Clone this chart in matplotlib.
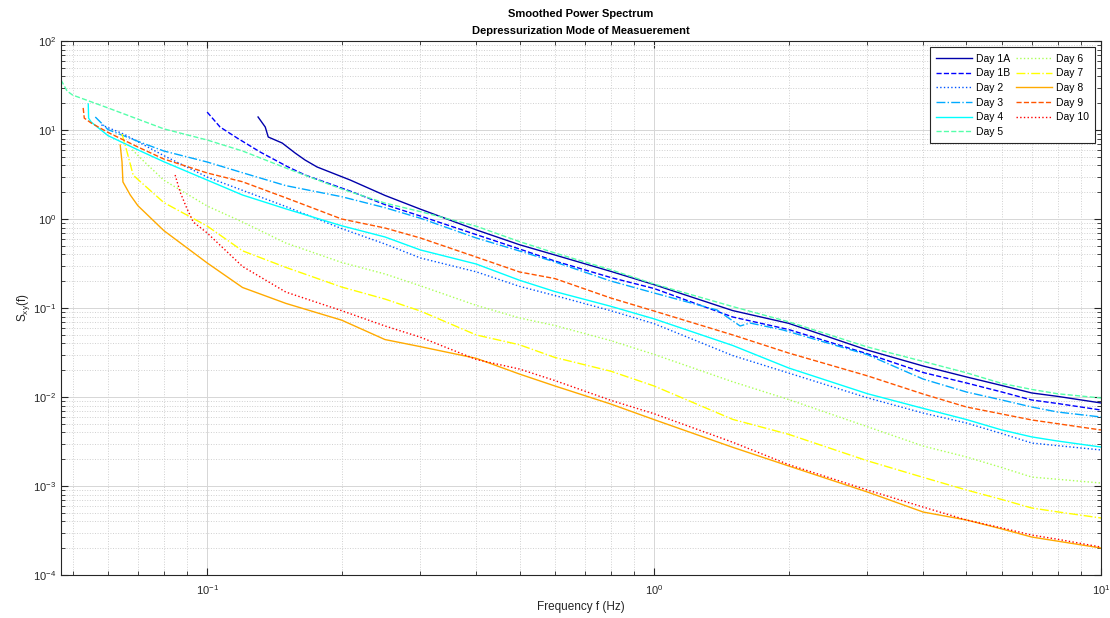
import matplotlib
matplotlib.use("Agg")
import matplotlib.pyplot as plt
from matplotlib.ticker import NullFormatter

# frequency (Hz) / smoothed power spectrum
f_day1a = [0.130, 0.1349, 0.137, 0.1472, 0.1573, 0.1656, 0.1762, 0.209, 0.25, 0.3, 0.4, 0.5,
           0.6, 0.8, 1.0, 1.5, 2, 3, 4, 5, 6, 7, 8, 10]
s_day1a = [14.0, 10.8, 8.34, 7.14, 5.52, 4.60, 3.84, 2.74, 1.84, 1.29, 0.755, 0.514,
           0.394, 0.258, 0.183, 0.0935, 0.0673, 0.0337, 0.0223, 0.0168, 0.01346, 0.0111, 0.01016, 0.00857]

f_day1b = [0.100, 0.1069, 0.1167, 0.1314, 0.1518, 0.1657, 0.2089, 0.25, 0.3, 0.4, 0.5, 0.6,
           0.8, 1.0, 1.5, 2, 3, 4, 5, 6, 7, 8, 10]
s_day1b = [15.9, 10.8, 8.13, 5.66, 3.84, 3.12, 2.06, 1.45, 1.08, 0.668, 0.460, 0.337,
           0.220, 0.1656, 0.0792, 0.0573, 0.0306, 0.01884, 0.01437, 0.01138, 0.00925, 0.00845, 0.00714]

f_day2 = [0.058, 0.065, 0.08, 0.1, 0.12, 0.15, 0.2, 0.25, 0.3, 0.4, 0.5, 0.6,
          0.8, 1.0, 1.5, 2, 3, 4, 5, 6, 7, 8, 10]
s_day2 = [11.4, 9.02, 5.15, 2.96, 2.10, 1.38, 0.78, 0.524, 0.365, 0.255, 0.175, 0.138,
          0.0933, 0.0667, 0.0292, 0.0186, 0.0098, 0.0066, 0.0051, 0.00388, 0.00304, 0.00284, 0.00254]

f_day3 = [0.0562, 0.06, 0.07, 0.08, 0.1, 0.12, 0.15, 0.2, 0.25, 0.3, 0.4, 0.5, 0.6, 0.8,
          1.0, 1.383, 1.558, 1.64, 1.944, 3, 4, 5, 6, 7, 8, 10]
s_day3 = [14.0, 10.1, 7.46, 5.81, 4.37, 3.31, 2.37, 1.78, 1.34, 1.02, 0.612, 0.437, 0.329, 0.201,
          0.1475, 0.095, 0.0628, 0.0678, 0.0566, 0.0299, 0.0159, 0.01138, 0.00925, 0.00772, 0.00678, 0.00596]

f_day4 = [0.0542, 0.0543, 0.055, 0.06, 0.07, 0.08, 0.1, 0.12, 0.15, 0.2, 0.25, 0.3, 0.4, 0.5,
          0.6, 0.8, 1.0, 1.5, 2, 3, 4, 5, 6, 7, 8, 10]
s_day4 = [19.6, 13.6, 12.3, 8.65, 5.98, 4.40, 2.74, 1.86, 1.30, 0.839, 0.628, 0.449, 0.312, 0.205,
          0.153, 0.1045, 0.0755, 0.0379, 0.0212, 0.0109, 0.00745, 0.00558, 0.00426, 0.00356, 0.0032, 0.00274]

f_day5 = [0.0471, 0.0486, 0.05, 0.06, 0.08, 0.1, 0.12, 0.15, 0.2, 0.25, 0.3, 0.4, 0.5,
          0.6, 0.8, 1.0, 1.5, 2, 3, 4, 5, 6, 7, 8, 10]
s_day5 = [36.5, 27.4, 24.7, 17.7, 10.3, 7.72, 5.81, 3.74, 2.17, 1.51, 1.21, 0.830, 0.557,
          0.415, 0.269, 0.186, 0.1037, 0.0700, 0.0365, 0.0251, 0.0187, 0.0142, 0.01217, 0.01087, 0.00975]

f_day6 = [0.068, 0.072, 0.08, 0.1, 0.12, 0.15, 0.2, 0.25, 0.3, 0.4, 0.5, 0.6, 0.8,
          1.0, 1.5, 2, 3, 4, 5, 6, 7, 8, 10]
s_day6 = [6.0, 4.5, 2.73, 1.40, 0.925, 0.537, 0.325, 0.241, 0.1776, 0.107, 0.0773, 0.0635, 0.0430,
          0.0301, 0.01482, 0.00937, 0.00464, 0.00281, 0.00212, 0.00161, 0.00126, 0.00119, 0.00108]

f_day7 = [0.0645, 0.0662, 0.0683, 0.07, 0.08, 0.1, 0.12, 0.15, 0.2, 0.25, 0.3, 0.4, 0.5,
          0.6, 0.8, 1.0, 1.5, 2, 3, 4, 5, 6, 7, 8, 10]
s_day7 = [9.02, 5.66, 3.12, 2.78, 1.53, 0.834, 0.439, 0.286, 0.172, 0.126, 0.0925, 0.0498, 0.0386,
          0.0278, 0.0195, 0.0133, 0.0056, 0.00381, 0.00192, 0.00125, 0.000902, 0.000705, 0.000566,
          0.000512, 0.000437]

f_day8 = [0.0639, 0.0645, 0.0648, 0.0673, 0.07, 0.08, 0.1, 0.12, 0.15, 0.2, 0.25, 0.3, 0.4,
          0.5, 0.6, 0.8, 1.0, 1.5, 2, 3, 4, 5, 6, 7, 8, 10]
s_day8 = [6.78, 4.37, 2.61, 1.86, 1.41, 0.741, 0.321, 0.170, 0.1127, 0.0730, 0.0442, 0.0368, 0.0272,
          0.0181, 0.0133, 0.00834, 0.00557, 0.00272, 0.00168, 0.000857, 0.00051, 0.000415, 0.000329,
          0.000267, 0.00024, 0.000201]

f_day9 = [0.0528, 0.0531, 0.055, 0.06, 0.07, 0.08, 0.1, 0.12, 0.15, 0.2, 0.25, 0.3, 0.4,
          0.5, 0.6, 0.8, 1.0, 1.5, 2, 3, 4, 5, 6, 7, 8, 10]
s_day9 = [17.7, 13.6, 12.0, 9.40, 6.44, 4.72, 3.29, 2.62, 1.73, 1.0, 0.792, 0.612, 0.374,
          0.254, 0.214, 0.1295, 0.0925, 0.0498, 0.0312, 0.0173, 0.0108, 0.00772, 0.00644, 0.00552,
          0.00501, 0.00426]

f_day10 = [0.0848, 0.087, 0.09, 0.0931, 0.1, 0.12, 0.15, 0.2, 0.25, 0.3, 0.4, 0.5, 0.6,
           0.8, 1.0, 1.5, 2, 3, 4, 5, 6, 7, 8, 10]
s_day10 = [3.12, 2.01, 1.33, 0.925, 0.697, 0.293, 0.151, 0.0933, 0.0628, 0.047, 0.0264, 0.0206, 0.0153,
           0.00918, 0.00649, 0.0031, 0.00174, 0.000902, 0.00058, 0.000415, 0.000338, 0.000281,
           0.000252, 0.000206]

labels = ["Day 1A", "Day 1B", "Day 2", "Day 3", "Day 4", "Day 5",
          "Day 6", "Day 7", "Day 8", "Day 9", "Day 10"]
freqs = [f_day1a, f_day1b, f_day2, f_day3, f_day4, f_day5, f_day6, f_day7, f_day8, f_day9, f_day10]
spectra = [s_day1a, s_day1b, s_day2, s_day3, s_day4, s_day5, s_day6, s_day7, s_day8, s_day9, s_day10]

# MATLAB jet(11) and the default line style cycle
colors = [(0, 0, 0.667), (0, 0, 1), (0, 0.333, 1), (0, 0.667, 1), (0, 1, 1), (0.333, 1, 0.667),
          (0.667, 1, 0.333), (1, 1, 0), (1, 0.667, 0), (1, 0.333, 0), (1, 0, 0)]
styles = ["-", "--", ":", "-."]

plt.rcParams["font.family"] = ["Liberation Sans", "DejaVu Sans"]
plt.rcParams["mathtext.fontset"] = "custom"
plt.rcParams["mathtext.rm"] = "Liberation Sans"
plt.rcParams["mathtext.it"] = "Liberation Sans"

fig = plt.figure(figsize=(11.1, 6.18), dpi=100)
ax = fig.add_axes([61 / 1110, 1 - 575 / 618, 1040 / 1110, 534 / 618])

for i, (f, s) in enumerate(zip(freqs, spectra)):
    ax.loglog(f, s, color=colors[i], linestyle=styles[i % 4], linewidth=1.0, label=labels[i])

ax.set_xlim(0.0471, 10)
ax.set_ylim(1e-4, 1e2)
ax.xaxis.set_minor_formatter(NullFormatter())
ax.yaxis.set_minor_formatter(NullFormatter())

dark = "#262626"
ax.grid(True, which="major", color="#d6d6d6", linestyle="-", linewidth=0.7)
ax.grid(True, which="minor", color="#d0d0d0", linestyle=":", linewidth=0.7)
ax.set_axisbelow(True)
for sp in ax.spines.values():
    sp.set_color(dark)
    sp.set_linewidth(0.8)
ax.tick_params(which="both", direction="in", top=True, right=True, colors=dark, labelsize=8)
ax.tick_params(which="major", length=5)
ax.tick_params(which="minor", length=3)
ax.tick_params(axis="x", which="major", pad=6)

ax.set_xlabel("Frequency f (Hz)", fontsize=8.5, color=dark, labelpad=3)
ax.set_ylabel(r"S$_{xy}$(f)", fontsize=8.5, color=dark, labelpad=1)
ax.set_title("Smoothed Power Spectrum\nDepressurization Mode of Measuerement",
             fontsize=8, fontweight="bold", linespacing=1.9, pad=5)

leg = ax.legend(ncol=2, loc="upper right", fontsize=7.5, frameon=True, fancybox=False,
                edgecolor=dark, framealpha=1, borderaxespad=0.6, handlelength=3.5,
                handletextpad=0.3, columnspacing=0.6, labelspacing=0.45, borderpad=0.6)
leg.get_frame().set_linewidth(0.8)

fig.savefig("out.png", dpi=100, facecolor="white")
